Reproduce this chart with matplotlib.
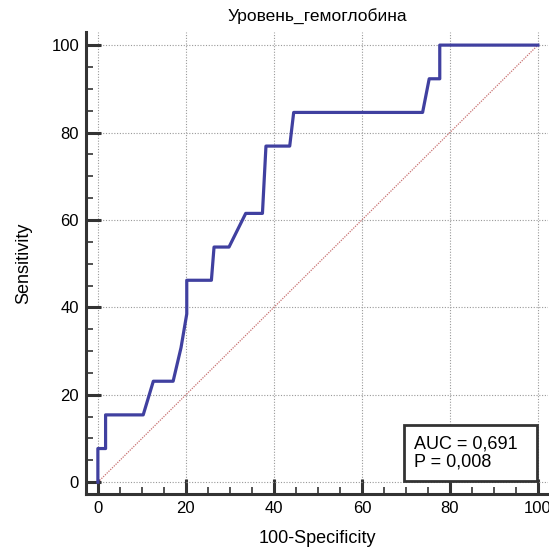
import numpy as np
import matplotlib.pyplot as plt

plt.rcParams['font.family'] = ['Liberation Sans', 'DejaVu Sans']

fpr = [0, 0, 1.75, 1.75, 10.3, 12.6, 17.1, 18.9, 20.2, 20.2, 25.8, 26.4, 29.8, 33.6,
       37.4, 38.2, 43.6, 44.5, 73.8, 75.3, 77.7, 77.7, 100]
tpr = [0, 7.7, 7.7, 15.4, 15.4, 23.1, 23.1, 30.8, 38.5, 46.2, 46.2, 53.8, 53.8, 61.5,
       61.5, 76.9, 76.9, 84.6, 84.6, 92.3, 92.3, 100, 100]
title = 'Уровень_гемоглобина'
auc_text = 'AUC = 0,691  \nP = 0,008'

fig = plt.figure(figsize=(5.49, 5.49), dpi=100)
ax = fig.add_axes([86/549, 55/549, 462/549, 462/549])

ax.plot([0, 100], [0, 100], color='#c87070', lw=0.9, ls=(0, (1, 1)))
ax.plot(fpr, tpr, color='#4040a0', lw=2.3, solid_joinstyle='round')

ax.set_xlim(-2.7, 102.3)
ax.set_ylim(-2.7, 103)
ax.set_xticks(np.arange(0, 101, 20))
ax.set_yticks(np.arange(0, 101, 20))
ax.set_xticks(np.arange(0, 101, 5), minor=True)
ax.set_yticks(np.arange(0, 101, 5), minor=True)
ax.grid(True, which='major', color='#999999', ls=(0, (1, 1.5)), lw=0.8)

for s in ['top', 'right']:
    ax.spines[s].set_visible(False)
for s in ['left', 'bottom']:
    ax.spines[s].set_linewidth(2.2)
    ax.spines[s].set_color('#333333')
ax.tick_params(which='major', direction='in', length=11, width=2.2, color='#333333',
               labelsize=12, pad=5)
ax.tick_params(which='minor', direction='in', length=5, width=1.2, color='#333333')

ax.set_title(title, fontsize=12.5, pad=8)
ax.set_xlabel('100-Specificity', fontsize=13, labelpad=10)
ax.set_ylabel('Sensitivity', fontsize=13, labelpad=14)

ax.text(71.8, 2.6, auc_text, ha='left', va='bottom', fontsize=13,
        linespacing=1.12,
        bbox=dict(boxstyle='square,pad=0.55', fc='white', ec='#333333', lw=2))

plt.savefig('out.png', dpi=100)
